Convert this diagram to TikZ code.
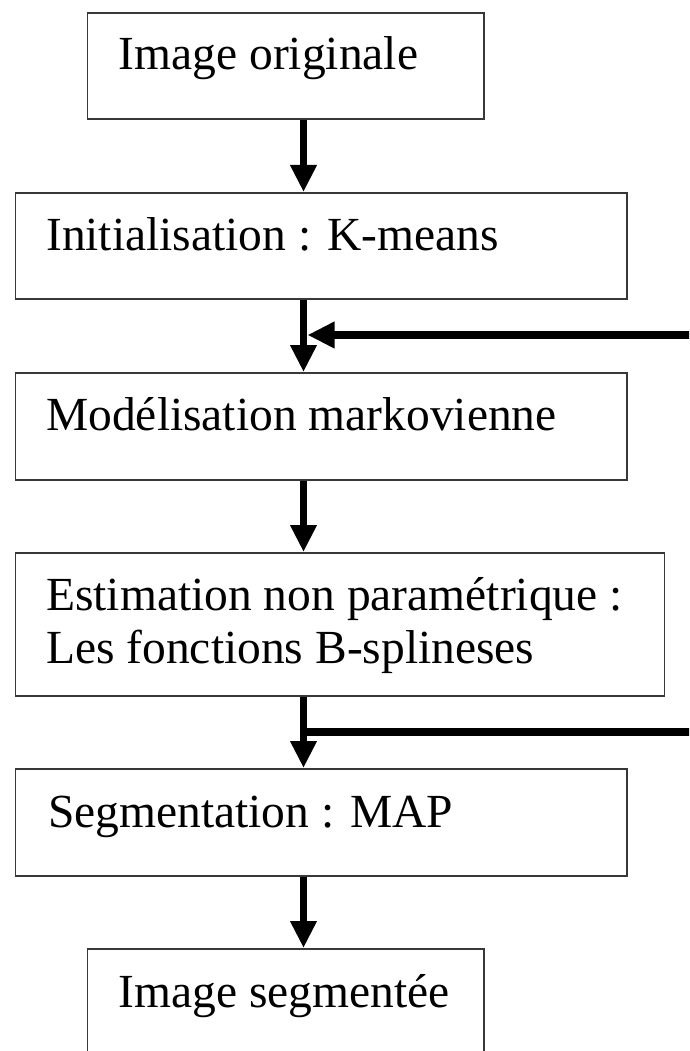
\documentclass[tikz,border=0pt]{standalone}
\usepackage{fontspec}
\setmainfont{Liberation Serif}
\usetikzlibrary{arrows.meta}
\tikzset{
  box/.style={draw=black!78, line width=1.8pt, rectangle, inner sep=0pt, anchor=north west, fill=white},
  lbl/.style={anchor=base west, inner sep=0pt, font=\fontsize{47.5}{53}\selectfont},
  flow/.style={line width=7.5pt, -{Triangle[length=27pt,width=25pt]}},
  fback/.style={line width=7.5pt},
}
\begin{document}
\begin{tikzpicture}[x=1pt,y=-1pt]
\useasboundingbox (0,0) rectangle (689,1051);
\clip (0,0) rectangle (689,1051);
\fill[white] (0,0) rectangle (689,1051);
% boxes
\node[box, minimum width=396.4pt, minimum height=106pt] (b1) at (86.6,12) {};
\node[box, minimum width=611.5pt, minimum height=106pt] (b2) at (14.5,192) {};
\node[box, minimum width=611.5pt, minimum height=107pt] (b3) at (14.5,372) {};
\node[box, minimum width=649pt, minimum height=143pt] (b4) at (14.5,552) {};
\node[box, minimum width=611.5pt, minimum height=107pt] (b5) at (14.5,768) {};
\node[box, minimum width=396.4pt, minimum height=130pt] (b6) at (86.6,948) {};
% texts
\node[lbl] (t1) at (118.6,70) {Image originale};
\node[lbl] (t2) at (46,250) {Initialisation : K-means};
\node[lbl] (t3) at (46,430) {Modélisation markovienne};
\node[lbl] (t4a) at (46,610) {Estimation non paramétrique :};
\node[lbl] (t4b) at (46,663) {Les fonctions B-splineses};
\node[lbl] (t5) at (48,827) {Segmentation : MAP};
\node[lbl] (t6) at (118.6,1007) {Image segmentée};
% column of arrows
\coordinate (ax) at (303.5,0);
\draw[flow] (b1.south -| ax) -- (b2.north -| ax);
\draw[flow] (b2.south -| ax) -- (b3.north -| ax);
\draw[flow] (b3.south -| ax) -- (b4.north -| ax);
\draw[flow] (b4.south -| ax) -- (b5.north -| ax);
\draw[flow] (b5.south -| ax) -- (b6.north -| ax);
% feedback lines
\coordinate (f1) at (700,335);
\coordinate (j1) at (307.5,335);
\draw[flow] (f1) -- (j1);
\coordinate (f2) at (700,732);
\coordinate (j2) at (303.5,732);
\draw[fback] (j2) -- (f2);
\end{tikzpicture}
\end{document}
